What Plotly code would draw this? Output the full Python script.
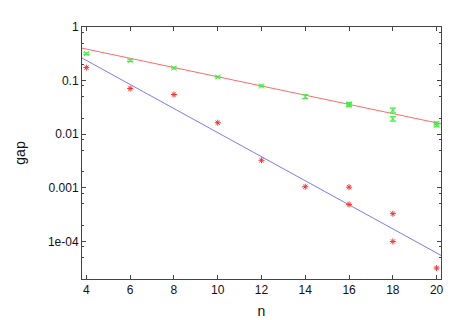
import plotly.graph_objects as go

# Red data points (n, gap)
red_n = [4, 6, 8, 10, 12, 14, 16, 16, 18, 18, 20]
red_gap = [0.175, 0.0713, 0.055, 0.0164, 0.00327, 0.00105, 0.00103, 0.00049, 0.00033, 0.0001, 0.000032]

# Green data points with error bars
green_n = [4, 6, 8, 10, 12, 14, 16, 16, 18, 18, 20, 20]
green_gap = [0.319, 0.236, 0.172, 0.117, 0.0796, 0.0506, 0.037, 0.035, 0.028, 0.0195, 0.016, 0.0148]
green_err = [0.012, 0.009, 0.007, 0.004, 0.003, 0.004, 0.002, 0.002, 0.003, 0.002, 0.001, 0.001]

# Fit lines (endpoints at plot edges)
fit_n = [3.8, 20.2]
red_fit = [0.403, 0.01567]
blue_fit = [0.264, 0.000055]

# Axis ticks
x_ticks = [4, 6, 8, 10, 12, 14, 16, 18, 20]
y_ticks = [1, 0.1, 0.01, 0.001, 0.0001]
y_ticktext = ["1", "0.1", "0.01", "0.001", "1e-04"]
y_minor = [m * 10 ** e for e in range(-5, 0) for m in (2, 5, 8)]

fig = go.Figure()
fig.add_trace(go.Scatter(x=fit_n, y=red_fit, mode="lines",
                         line=dict(color="#ff6a6a", width=1), showlegend=False))
fig.add_trace(go.Scatter(x=fit_n, y=blue_fit, mode="lines",
                         line=dict(color="#7a7aff", width=1), showlegend=False))
fig.add_trace(go.Scatter(x=green_n, y=green_gap, mode="markers",
                         marker=dict(symbol="x-thin-open", size=5, color="#3cf03c",
                                     line=dict(width=1, color="#3cf03c")),
                         error_y=dict(type="data", array=green_err, visible=True,
                                      color="#3cf03c", thickness=1, width=3),
                         showlegend=False))
fig.add_trace(go.Scatter(x=red_n, y=red_gap, mode="markers",
                         marker=dict(symbol="asterisk-open", size=5, color="#ff3030",
                                     line=dict(width=1, color="#ff3030")),
                         showlegend=False))

axis_font = dict(family="Liberation Sans, Arial, sans-serif", size=12, color="#111")
fig.update_layout(
    width=457, height=320,
    margin=dict(l=74, r=24, t=16, b=42),
    paper_bgcolor="white", plot_bgcolor="white",
    font=axis_font,
    xaxis=dict(range=[3.8, 20.2], tickmode="array", tickvals=x_ticks,
               ticks="inside", ticklen=4, tickcolor="#444", tickwidth=1,
               showline=True, linecolor="#444", linewidth=1, mirror="ticks",
               showgrid=False, zeroline=False,
               title=dict(text="n", standoff=9), tickfont=axis_font),
    yaxis=dict(type="log", range=[-4.7, 0], tickmode="array", tickvals=y_ticks,
               ticktext=y_ticktext,
               ticks="inside", ticklen=4, tickcolor="#444", tickwidth=1,
               minor=dict(tickmode="array", tickvals=y_minor, ticks="inside",
                          ticklen=2, tickcolor="#444", showgrid=False),
               showline=True, linecolor="#444", linewidth=1, mirror="ticks",
               showgrid=False, zeroline=False,
               title=dict(text="gap", standoff=18), tickfont=axis_font),
)

fig.write_html("out.html")
